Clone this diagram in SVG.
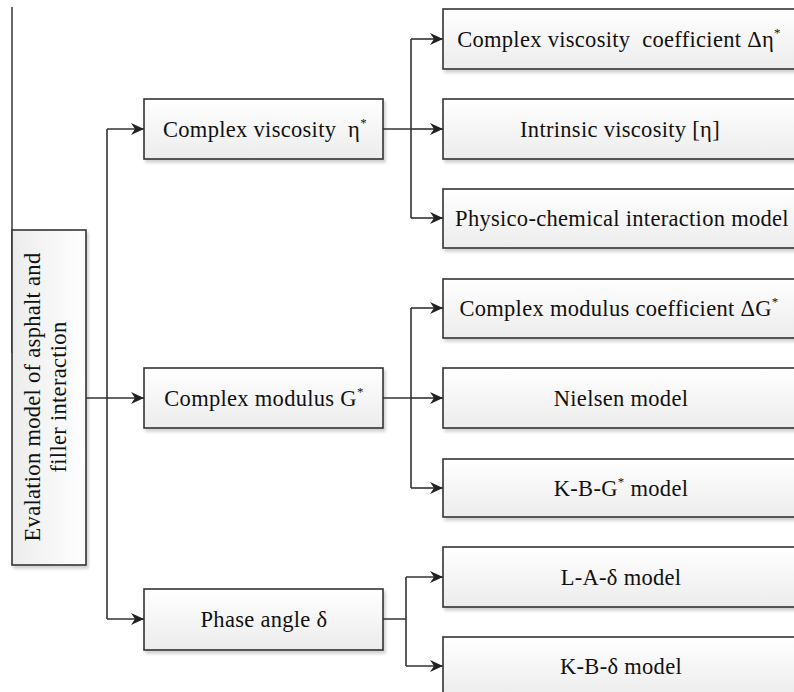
<svg xmlns="http://www.w3.org/2000/svg" width="794" height="692" viewBox="0 0 794 692">
<defs>
<linearGradient id="g" x1="0" y1="0" x2="0" y2="1">
<stop offset="0" stop-color="#ffffff"/>
<stop offset="1" stop-color="#ececec"/>
</linearGradient>
<linearGradient id="gh" x1="0" y1="0" x2="1" y2="0">
<stop offset="0" stop-color="#ececec"/>
<stop offset="1" stop-color="#ffffff"/>
</linearGradient>
<filter id="sh" x="-5%" y="-5%" width="110%" height="120%">
<feDropShadow dx="2" dy="3" stdDeviation="1.5" flood-color="#000" flood-opacity="0.18"/>
</filter>
<marker id="ah" markerWidth="14" markerHeight="12" refX="13" refY="6" orient="auto" markerUnits="userSpaceOnUse">
<path d="M0,0 L13,6 L0,12 L4,6 Z" fill="#222"/>
</marker>
</defs>
<style>
.box{fill:url(#g);stroke:#333;stroke-width:1.6;filter:url(#sh)}
.vbox{fill:url(#gh);stroke:#333;stroke-width:1.6;filter:url(#sh)}
.t{font-family:"Liberation Serif","Times New Roman",serif;font-size:22.5px;letter-spacing:0.3px;fill:#111;text-anchor:middle;white-space:pre}
.sup{font-size:13px}
.ln{fill:none;stroke:#333;stroke-width:1.6}
.ar{fill:none;stroke:#333;stroke-width:1.6;marker-end:url(#ah)}
</style>
<rect width="794" height="692" fill="#fff"/>
<line x1="12" y1="7" x2="12" y2="353" stroke="#444" stroke-width="1.6"/>

<g id="root">
<rect class="vbox" x="12" y="230" width="74" height="335"/>
<text class="t" transform="translate(40,397) rotate(-90)">Evalation model of asphalt and</text>
<text class="t" transform="translate(66,397) rotate(-90)">filler interaction</text>
</g>

<g id="n-viscosity">
<rect class="box" x="144" y="99" width="239" height="60"/>
<text class="t" x="265" y="137">Complex viscosity  η<tspan class="sup" dy="-10">*</tspan></text>
</g>
<g id="n-modulus">
<rect class="box" x="144" y="368" width="239" height="60"/>
<text class="t" x="264" y="406">Complex modulus G<tspan class="sup" dy="-10">*</tspan></text>
</g>
<g id="n-phase">
<rect class="box" x="144" y="589" width="239" height="61"/>
<text class="t" x="264" y="627">Phase angle δ</text>
</g>

<g id="n-cvc">
<rect class="box" x="443" y="9" width="354" height="60"/>
<text class="t" x="619" y="47">Complex viscosity  coefficient Δη<tspan class="sup" dy="-10">*</tspan></text>
</g>
<g id="n-intrinsic">
<rect class="box" x="443" y="99" width="354" height="60"/>
<text class="t" x="620" y="137">Intrinsic viscosity [η]</text>
</g>
<g id="n-physico">
<rect class="box" x="443" y="189" width="354" height="59"/>
<text class="t" x="622" y="226">Physico-chemical interaction model</text>
</g>
<g id="n-cmc">
<rect class="box" x="443" y="279" width="354" height="59"/>
<text class="t" x="619" y="316">Complex modulus coefficient ΔG<tspan class="sup" dy="-10">*</tspan></text>
</g>
<g id="n-nielsen">
<rect class="box" x="443" y="368" width="354" height="60"/>
<text class="t" x="621" y="406">Nielsen model</text>
</g>
<g id="n-kbg">
<rect class="box" x="443" y="459" width="354" height="58"/>
<text class="t" x="621" y="496">K-B-G<tspan class="sup" dy="-10">*</tspan><tspan dy="10"> model</tspan></text>
</g>
<g id="n-la">
<rect class="box" x="443" y="547" width="354" height="60"/>
<text class="t" x="621" y="585">L-A-δ model</text>
</g>
<g id="n-kb">
<rect class="box" x="443" y="637" width="354" height="60"/>
<text class="t" x="621" y="674">K-B-δ model</text>
</g>

<g id="connectors">
<path class="ln" d="M107,129 V619"/>
<path class="ar" d="M107,129 H144"/>
<path class="ar" d="M86,398 H144"/>
<path class="ar" d="M107,619 H144"/>

<path class="ln" d="M383,129 H411 M411,39 V218"/>
<path class="ar" d="M411,39 H443"/>
<path class="ar" d="M411,129 H443"/>
<path class="ar" d="M411,218 H443"/>

<path class="ln" d="M383,398 H411 M411,308 V488"/>
<path class="ar" d="M411,308 H443"/>
<path class="ar" d="M411,398 H443"/>
<path class="ar" d="M411,488 H443"/>

<path class="ln" d="M383,619 H406 M406,577 V666"/>
<path class="ar" d="M406,577 H443"/>
<path class="ar" d="M406,666 H443"/>
</g>
</svg>
